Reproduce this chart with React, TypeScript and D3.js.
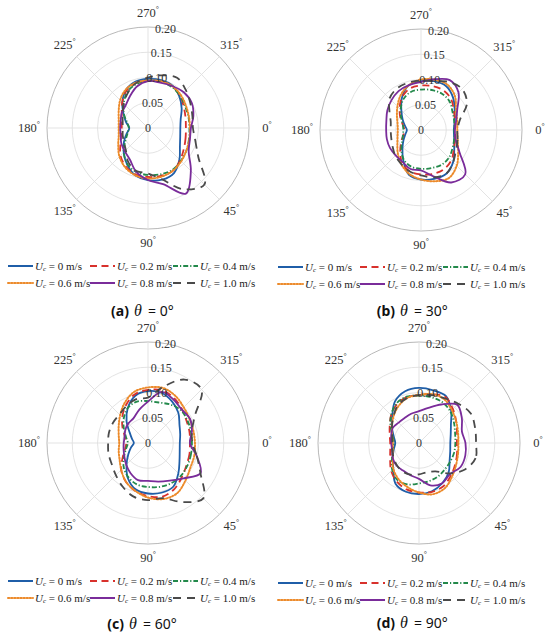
import * as d3 from "d3";
import React from "react";

// sample angles in degrees, clockwise from 0° at the right
const ANGLES = d3.range(0, 360, 15);
const R_TICKS = [0, 0.05, 0.1, 0.15, 0.2];
const R_LABELS = ["0", "0.05", "0.10", "0.15", "0.20"];
const THETA_TICKS = [0, 45, 90, 135, 180, 225, 270, 315];

const SPEEDS = ["0", "0.2", "0.4", "0.6", "0.8", "1.0"];
const COLORS = ["#1f5ea8", "#d8312c", "#23894b", "#ec8a2a", "#7a2c9a", "#4a4a4a"];
const DASHES = ["none", "7 4.5", "5 2 1.2 2", "1.3 1.8", "none", "8 6"];

// (a) theta = 0°
const a_u00 = [0.064, 0.066, 0.073, 0.088, 0.103, 0.106, 0.103, 0.097, 0.083, 0.068, 0.055, 0.044, 0.037, 0.045, 0.056, 0.072, 0.087, 0.095, 0.097, 0.098, 0.097, 0.088, 0.077, 0.067];
const a_u02 = [0.075, 0.077, 0.082, 0.09, 0.098, 0.098, 0.097, 0.095, 0.088, 0.077, 0.063, 0.055, 0.052, 0.054, 0.06, 0.072, 0.085, 0.092, 0.093, 0.095, 0.095, 0.09, 0.082, 0.077];
const a_u04 = [0.082, 0.084, 0.088, 0.092, 0.096, 0.095, 0.093, 0.09, 0.082, 0.068, 0.052, 0.042, 0.038, 0.043, 0.055, 0.068, 0.082, 0.09, 0.093, 0.095, 0.094, 0.09, 0.085, 0.083];
const a_u06 = [0.083, 0.085, 0.088, 0.093, 0.098, 0.1, 0.1, 0.097, 0.09, 0.08, 0.068, 0.06, 0.058, 0.06, 0.067, 0.078, 0.088, 0.093, 0.094, 0.096, 0.096, 0.092, 0.087, 0.084];
const a_u08 = [0.085, 0.086, 0.093, 0.12, 0.15, 0.115, 0.103, 0.09, 0.072, 0.065, 0.061, 0.056, 0.055, 0.056, 0.06, 0.063, 0.072, 0.085, 0.093, 0.093, 0.096, 0.1, 0.1, 0.093];
const a_u10 = [0.089, 0.097, 0.115, 0.158, 0.14, 0.105, 0.09, 0.088, 0.078, 0.062, 0.055, 0.052, 0.05, 0.052, 0.058, 0.068, 0.08, 0.092, 0.1, 0.108, 0.115, 0.106, 0.097, 0.091];

// (b) theta = 30°
const b_u00 = [0.065, 0.068, 0.076, 0.09, 0.1, 0.1, 0.098, 0.092, 0.07, 0.052, 0.04, 0.032, 0.028, 0.033, 0.042, 0.055, 0.075, 0.092, 0.097, 0.1, 0.1, 0.09, 0.077, 0.069];
const b_u02 = [0.068, 0.07, 0.075, 0.085, 0.09, 0.09, 0.088, 0.085, 0.075, 0.058, 0.045, 0.036, 0.033, 0.037, 0.047, 0.06, 0.075, 0.085, 0.088, 0.09, 0.09, 0.085, 0.075, 0.07];
const b_u04 = [0.066, 0.068, 0.072, 0.078, 0.08, 0.078, 0.077, 0.075, 0.068, 0.055, 0.043, 0.037, 0.035, 0.037, 0.045, 0.057, 0.07, 0.078, 0.08, 0.082, 0.083, 0.08, 0.072, 0.068];
const b_u06 = [0.072, 0.075, 0.085, 0.1, 0.11, 0.105, 0.098, 0.09, 0.078, 0.065, 0.054, 0.048, 0.046, 0.048, 0.055, 0.066, 0.08, 0.092, 0.1, 0.103, 0.104, 0.095, 0.08, 0.074];
const b_u08 = [0.067, 0.071, 0.088, 0.124, 0.12, 0.095, 0.08, 0.08, 0.073, 0.071, 0.071, 0.07, 0.069, 0.071, 0.077, 0.083, 0.089, 0.092, 0.095, 0.104, 0.114, 0.105, 0.083, 0.072];
const b_u10 = [0.072, 0.075, 0.08, 0.09, 0.1, 0.097, 0.09, 0.085, 0.078, 0.072, 0.065, 0.061, 0.06, 0.062, 0.072, 0.088, 0.095, 0.097, 0.098, 0.1, 0.11, 0.115, 0.105, 0.08];

// (c) theta = 60°
const c_u00 = [0.063, 0.065, 0.072, 0.085, 0.1, 0.102, 0.1, 0.095, 0.08, 0.06, 0.045, 0.035, 0.028, 0.033, 0.042, 0.06, 0.08, 0.097, 0.103, 0.103, 0.095, 0.085, 0.072, 0.066];
const c_u02 = [0.083, 0.085, 0.088, 0.095, 0.105, 0.11, 0.105, 0.098, 0.088, 0.075, 0.058, 0.047, 0.043, 0.047, 0.058, 0.072, 0.087, 0.1, 0.105, 0.108, 0.103, 0.095, 0.088, 0.085];
const c_u04 = [0.087, 0.088, 0.09, 0.092, 0.092, 0.09, 0.087, 0.085, 0.078, 0.068, 0.055, 0.045, 0.04, 0.045, 0.055, 0.068, 0.08, 0.085, 0.083, 0.083, 0.088, 0.092, 0.09, 0.088];
const c_u06 = [0.093, 0.095, 0.097, 0.105, 0.115, 0.115, 0.108, 0.098, 0.088, 0.075, 0.065, 0.06, 0.057, 0.06, 0.067, 0.078, 0.092, 0.105, 0.11, 0.113, 0.108, 0.1, 0.095, 0.093];
const c_u08 = [0.083, 0.1, 0.12, 0.099, 0.086, 0.079, 0.075, 0.076, 0.069, 0.061, 0.054, 0.05, 0.048, 0.048, 0.052, 0.055, 0.057, 0.068, 0.082, 0.105, 0.1, 0.094, 0.096, 0.09];
const c_u10 = [0.088, 0.1, 0.12, 0.155, 0.135, 0.113, 0.113, 0.11, 0.1, 0.09, 0.083, 0.081, 0.079, 0.08, 0.08, 0.08, 0.085, 0.09, 0.09, 0.115, 0.145, 0.15, 0.107, 0.09];

// (d) theta = 90°
const d_u00 = [0.062, 0.064, 0.07, 0.083, 0.092, 0.099, 0.101, 0.1, 0.093, 0.072, 0.06, 0.052, 0.047, 0.052, 0.062, 0.075, 0.095, 0.106, 0.109, 0.108, 0.107, 0.09, 0.073, 0.065];
const d_u02 = [0.075, 0.078, 0.083, 0.09, 0.098, 0.1, 0.098, 0.095, 0.088, 0.078, 0.066, 0.059, 0.057, 0.06, 0.067, 0.078, 0.088, 0.094, 0.095, 0.1, 0.105, 0.095, 0.085, 0.078];
const d_u04 = [0.072, 0.072, 0.072, 0.073, 0.076, 0.078, 0.08, 0.085, 0.085, 0.075, 0.062, 0.054, 0.05, 0.054, 0.065, 0.078, 0.09, 0.095, 0.094, 0.094, 0.093, 0.088, 0.08, 0.074];
const d_u06 = [0.078, 0.08, 0.085, 0.093, 0.103, 0.105, 0.098, 0.09, 0.082, 0.072, 0.06, 0.054, 0.052, 0.055, 0.062, 0.072, 0.083, 0.092, 0.095, 0.1, 0.1, 0.092, 0.085, 0.08];
const d_u08 = [0.092, 0.095, 0.095, 0.087, 0.092, 0.087, 0.071, 0.066, 0.063, 0.063, 0.06, 0.055, 0.055, 0.057, 0.06, 0.057, 0.057, 0.06, 0.063, 0.072, 0.088, 0.107, 0.098, 0.088];
const d_u10 = [0.113, 0.116, 0.105, 0.085, 0.065, 0.06, 0.062, 0.065, 0.065, 0.062, 0.058, 0.055, 0.053, 0.055, 0.062, 0.072, 0.085, 0.092, 0.095, 0.098, 0.102, 0.11, 0.118, 0.115];

const PANELS = [
  { tag: "a", theta: "0°", cx: 148, cy: 128, lx: 8, ly: 266, capX: 148, capY: 310, series: [a_u00, a_u02, a_u04, a_u06, a_u08, a_u10] },
  { tag: "b", theta: "30°", cx: 421, cy: 130, lx: 278, ly: 267, capX: 414, capY: 310, series: [b_u00, b_u02, b_u04, b_u06, b_u08, b_u10] },
  { tag: "c", theta: "60°", cx: 148, cy: 443, lx: 8, ly: 581, capX: 143, capY: 623, series: [c_u00, c_u02, c_u04, c_u06, c_u08, c_u10] },
  { tag: "d", theta: "90°", cx: 419, cy: 443, lx: 278, ly: 583, capX: 414, capY: 622, series: [d_u00, d_u02, d_u04, d_u06, d_u08, d_u10] },
];

const R_MAX = 101;
const SERIF = "'Liberation Serif', 'Times New Roman', serif";
const SANS = "'Noto Sans', 'DejaVu Sans', sans-serif";

const r = d3.scaleLinear().domain([0, 0.2]).range([0, R_MAX]);
const rad = (deg: number) => (deg * Math.PI) / 180;

const radial = d3
  .lineRadial<number>()
  .angle((_, i) => rad(ANGLES[i] + 90))
  .radius((v) => r(v))
  .curve(d3.curveCatmullRomClosed.alpha(0.5));

function Polar({ p }) {
  return (
    <g transform={`translate(${p.cx},${p.cy})`}>
      {R_TICKS.slice(1).map((t, i) => (
        <circle key={t} r={r(t)} fill="none" stroke={i === R_TICKS.length - 2 ? "#b0b0b0" : "#e0e0e0"} strokeWidth={0.9} />
      ))}
      {THETA_TICKS.map((a) => (
        <line key={a} x1={0} y1={0} x2={R_MAX * Math.cos(rad(a))} y2={R_MAX * Math.sin(rad(a))} stroke="#e0e0e0" strokeWidth={0.9} />
      ))}
      {p.series.map((vals, k) => (
        <path
          key={k}
          d={radial(vals) || ""}
          fill="none"
          stroke={COLORS[k]}
          strokeWidth={k === 3 ? 2 : 1.8}
          strokeDasharray={DASHES[k]}
          strokeLinecap={k === 3 ? "round" : "butt"}
        />
      ))}
      {R_TICKS.map((t, i) => {
        const ang = rad(280);
        return (
          <text key={t} x={r(t) * Math.cos(ang)} y={r(t) * Math.sin(ang)} fontSize={12} fontFamily={SERIF} fill="#333" textAnchor="middle" dominantBaseline="central">
            {R_LABELS[i]}
          </text>
        );
      })}
      {THETA_TICKS.map((a) => {
        const pad = 14 + 4 * Math.abs(Math.cos(rad(a)));
        const x = (R_MAX + pad) * Math.cos(rad(a));
        const y = (R_MAX + pad) * Math.sin(rad(a));
        return (
          <text key={a} x={x} y={y} fontSize={12.5} fontFamily={SERIF} fill="#333" textAnchor="middle" dominantBaseline="central">
            {a}
            <tspan fontSize={8} dy={-4}>°</tspan>
          </text>
        );
      })}
    </g>
  );
}

function Legend({ x, y }) {
  const colX = [0, 82, 165];
  const rowH = 17;
  return (
    <g transform={`translate(${x},${y})`}>
      {SPEEDS.map((s, k) => {
        const cx = colX[k % 3];
        const cy = Math.floor(k / 3) * rowH;
        return (
          <g key={s} transform={`translate(${cx},${cy})`}>
            <line x1={0} x2={25} y1={0} y2={0} stroke={COLORS[k]} strokeWidth={2} strokeDasharray={DASHES[k]} strokeLinecap={k === 3 ? "round" : "butt"} />
            <text x={27} y={0} fontSize={11} fontFamily={SERIF} fill="#222" dominantBaseline="central">
              <tspan fontStyle="italic">U</tspan>
              <tspan fontStyle="italic" fontSize={7} dy={3}>c</tspan>
              <tspan dy={-3}>{` = ${s} m/s`}</tspan>
            </text>
          </g>
        );
      })}
    </g>
  );
}

function Caption({ x, y, tag, theta }) {
  return (
    <g transform={`translate(${x},${y})`} fill="#111">
      <text x={-19} y={0} fontSize={14} fontWeight="bold" fontFamily={SANS} textAnchor="end" dominantBaseline="central">
        ({tag})
      </text>
      <text x={-10} y={0} fontSize={16} fontStyle="italic" fontFamily={SERIF} textAnchor="middle" dominantBaseline="central">
        θ
      </text>
      <text x={0} y={0} fontSize={14} fontFamily={SANS} textAnchor="start" dominantBaseline="central">
        {"= " + theta}
      </text>
    </g>
  );
}

export default function App() {
  return (
    <svg width={550} height={634} style={{ position: "absolute", left: 0, top: 0, background: "#fff" }}>
      {PANELS.map((p) => (
        <g key={p.tag}>
          <Polar p={p} />
          <Legend x={p.lx} y={p.ly} />
          <Caption x={p.capX} y={p.capY} tag={p.tag} theta={p.theta} />
        </g>
      ))}
    </svg>
  );
}
